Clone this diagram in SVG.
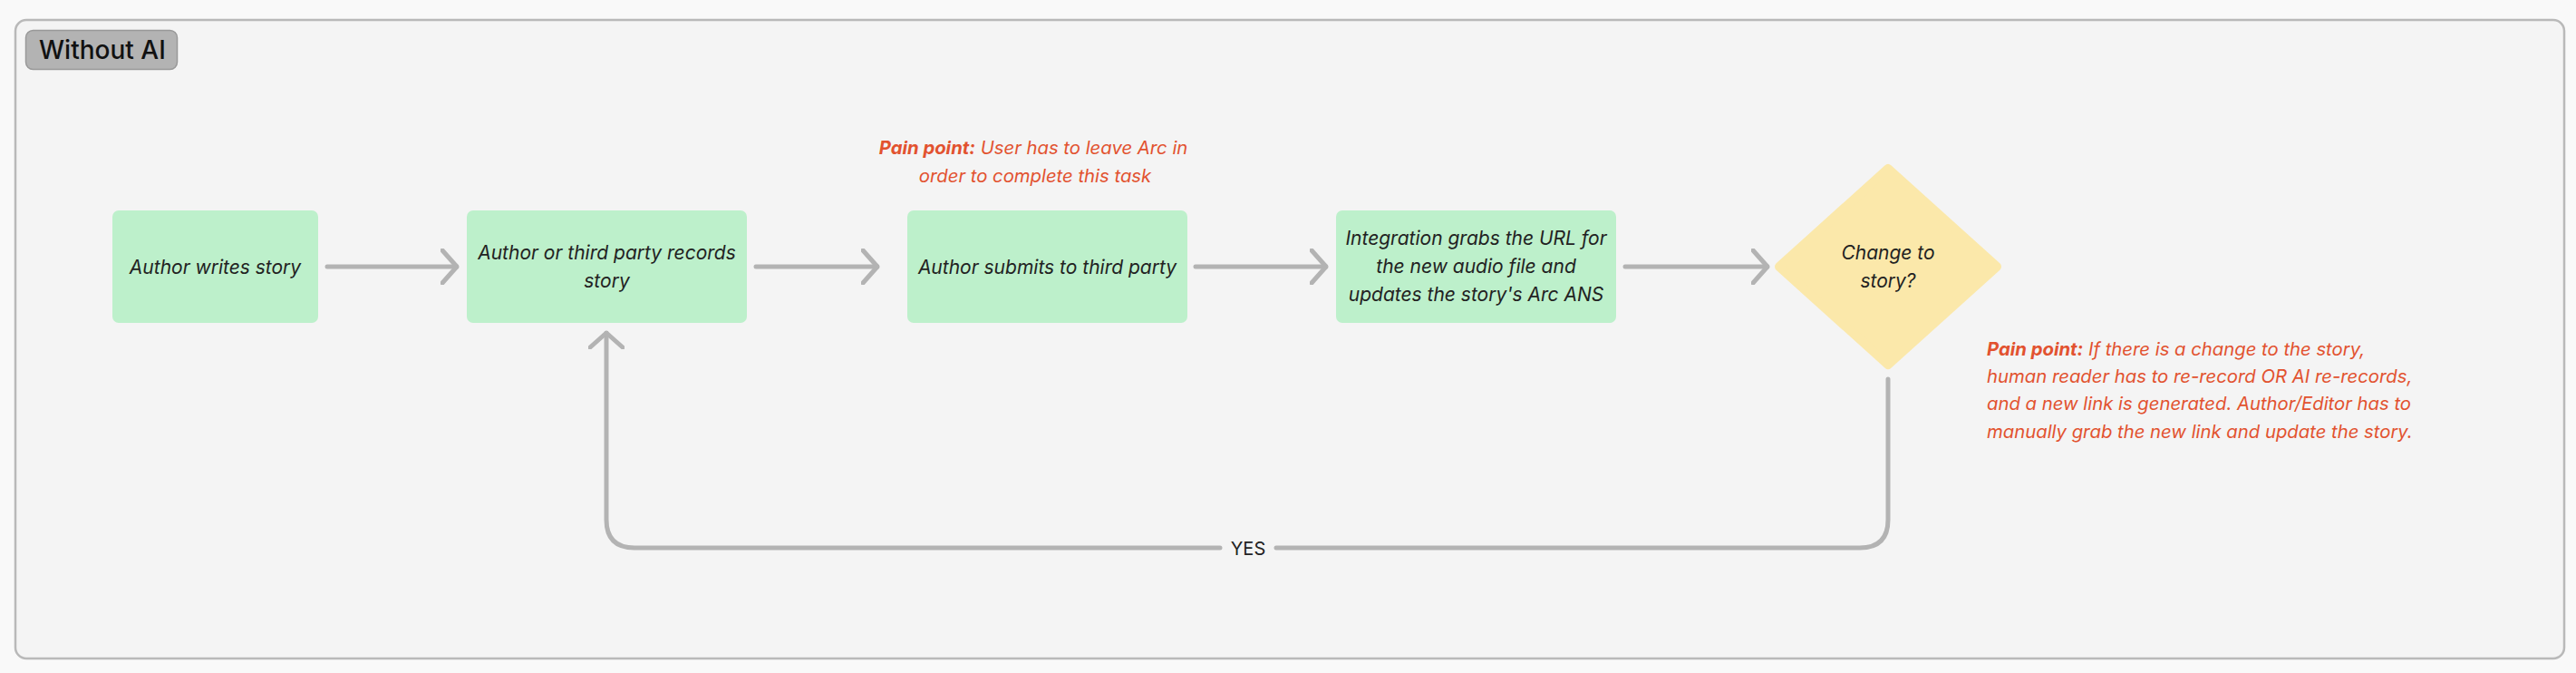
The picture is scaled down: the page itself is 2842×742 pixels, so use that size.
<svg xmlns="http://www.w3.org/2000/svg" width="2842" height="742" viewBox="0 0 2842 742">
<style>
.box{fill:#bdf0cb;}
.dia{fill:#fbe8aa;stroke:#fbe8aa;stroke-width:10;stroke-linejoin:round;}
.t{font-family:Inter,"Noto Sans","Liberation Sans",sans-serif;font-size:21px;font-style:italic;fill:#222;text-anchor:middle;}
.pp{font-family:Inter,"Noto Sans","Liberation Sans",sans-serif;font-size:20.3px;font-style:italic;fill:#e2522f;}
.ppb{font-weight:700;}
.c{fill:none;stroke:#b3b3b3;stroke-width:5;stroke-linecap:round;stroke-linejoin:round;}
.lbl{font-family:Inter,"Noto Sans","Liberation Sans",sans-serif;font-size:20px;fill:#222;text-anchor:middle;}
</style>
<defs>
<marker id="ah" viewBox="0 0 20 40" refX="18" refY="20" markerWidth="20" markerHeight="40" markerUnits="userSpaceOnUse" orient="auto">
<path d="M2,2 L18,20 L2,38" fill="none" stroke="#b3b3b3" stroke-width="5" stroke-linecap="round" stroke-linejoin="round"/>
</marker>
</defs>
<rect x="0" y="0" width="2842" height="742" fill="#f9f9f9"/>
<g id="frame">
<rect x="17" y="22" width="2812" height="704" rx="12" fill="#f4f4f4" stroke="#b9b9b9" stroke-width="2.5"/>
<rect x="28.5" y="33.5" width="167" height="43" rx="8" fill="#b3b3b3" stroke="#999" stroke-width="1.5"/>
<text x="43" y="65" font-family="Inter,'Noto Sans','Liberation Sans',sans-serif" font-size="28" font-weight="500" fill="#111">Without AI</text>
</g>
<g id="connectors">
<path class="c" d="M361,294 L504,294" marker-end="url(#ah)"/>
<path class="c" d="M834,294 L968,294" marker-end="url(#ah)"/>
<path class="c" d="M1319,294 L1463,294" marker-end="url(#ah)"/>
<path class="c" d="M1793,294 L1950,294" marker-end="url(#ah)"/>
<path class="c" d="M2083,418 L2083,573 Q2083,604 2052,604 L1408,604"/>
<path class="c" d="M1346,604 L700,604 Q669,604 669,573 L669,367" marker-end="url(#ah)"/>
<text class="lbl" x="1377" y="612">YES</text>
</g>
<g id="n1">
<rect class="box" x="124" y="232" width="227" height="124" rx="7"/>
<text class="t" x="237.5" y="302">Author writes story</text>
</g>
<g id="n2">
<rect class="box" x="515" y="232" width="309" height="124" rx="7"/>
<text class="t" x="669.5" y="286">Author or third party records</text>
<text class="t" x="669.5" y="317">story</text>
</g>
<g id="n3">
<rect class="box" x="1001" y="232" width="309" height="124" rx="7"/>
<text class="t" x="1155.5" y="302">Author submits to third party</text>
</g>
<g id="n4">
<rect class="box" x="1474" y="232" width="309" height="124" rx="7"/>
<text class="t" x="1628.5" y="270">Integration grabs the URL for</text>
<text class="t" x="1628.5" y="301">the new audio file and</text>
<text class="t" x="1628.5" y="332">updates the story's Arc ANS</text>
</g>
<g id="n5">
<polygon class="dia" points="2083,186 2203,294 2083,402 1963,294"/>
<text class="t" x="2083" y="286">Change to</text>
<text class="t" x="2083" y="317">story?</text>
</g>
<g id="pain1">
<text class="pp" x="1140" y="170" text-anchor="middle"><tspan class="ppb">Pain point:</tspan> User has to leave Arc in</text>
<text class="pp" x="1142" y="201" text-anchor="middle">order to complete this task</text>
</g>
<g id="pain2">
<text class="pp" x="2192" y="392"><tspan class="ppb">Pain point:</tspan> If there is a change to the story,</text>
<text class="pp" x="2192" y="422">human reader has to re-record OR AI re-records,</text>
<text class="pp" x="2192" y="452">and a new link is generated. Author/Editor has to</text>
<text class="pp" x="2192" y="483">manually grab the new link and update the story.</text>
</g>
</svg>
